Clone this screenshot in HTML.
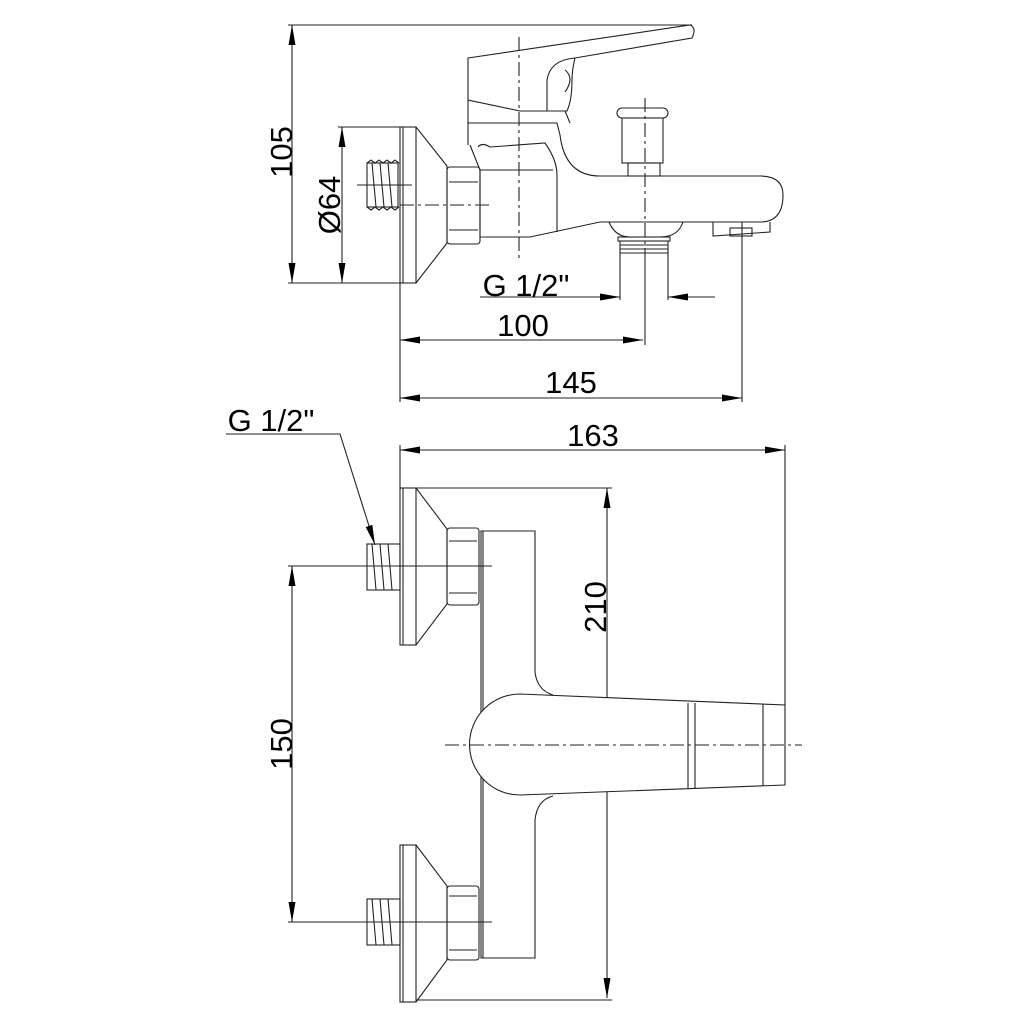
<!DOCTYPE html>
<html><head><meta charset="utf-8"><style>
html,body{margin:0;padding:0;background:#fff;}
svg{display:block;}
text{font-family:"Liberation Sans",sans-serif;font-size:31px;fill:#000;}
</style></head><body>
<svg width="1024" height="1024" viewBox="0 0 1024 1024" xmlns="http://www.w3.org/2000/svg">
<defs>
<marker id="a" viewBox="0 0 20 7" refX="20" refY="3.5" markerWidth="20" markerHeight="7" markerUnits="userSpaceOnUse" orient="auto-start-reverse">
<path d="M0,0 L20,3.5 L0,7 z" fill="#000"/></marker>
</defs>
<g fill="none" stroke="#222" stroke-width="1.1">
<!-- ===== TOP VIEW ===== -->
<line x1="288" y1="25" x2="692" y2="25"/>
<line x1="288" y1="283" x2="416" y2="283"/>
<line x1="338" y1="127" x2="416" y2="127"/>
<line x1="400" y1="283" x2="400" y2="402"/>
<line x1="742" y1="222" x2="742" y2="402"/>
<line x1="645" y1="255" x2="645" y2="345"/>
<line x1="292" y1="25" x2="292" y2="283" marker-start="url(#a)" marker-end="url(#a)"/>
<line x1="342" y1="127" x2="342" y2="283" marker-start="url(#a)" marker-end="url(#a)"/>
<line x1="400" y1="340" x2="643" y2="340" marker-start="url(#a)" marker-end="url(#a)"/>
<line x1="400" y1="398" x2="742" y2="398" marker-start="url(#a)" marker-end="url(#a)"/>
<line x1="480" y1="297" x2="620" y2="297" marker-end="url(#a)"/>
<line x1="715" y1="297" x2="668" y2="297" marker-end="url(#a)"/>
<rect x="400" y="127" width="16" height="156"/>
<line x1="403" y1="127" x2="403" y2="283"/>
<polyline points="416,127 447,166 447,243 416,283"/>
<rect x="367" y="163" width="31" height="44"/>
<path d="M367,163 l4,-3 4,3 4,-3 4,3 4,-3 4,3 4,-3 4,3 M367,207 l4,3 4,-3 4,3 4,-3 4,3 4,-3 4,3 4,-3"/>
<path d="M372,163 l4,44 M380,163 l4,44 M388,163 l4,44"/>
<line x1="357" y1="185" x2="412" y2="185"/>
<line x1="400" y1="205" x2="490" y2="205" stroke-dasharray="14 4 3 4"/>
<rect x="447" y="167" width="33" height="77" rx="3"/>
<line x1="449" y1="182" x2="478" y2="182"/>
<line x1="449" y1="230" x2="478" y2="230"/>
<path d="M480,170 L480,237 L530,237 L600,222 L760,222 Q783,222 783,195 Q783,176 760,176 L600,176 Q565,176 560,135 L557,123 L468,123 L468,145"/>
<path d="M478,147 Q482,142 490,147 L545,143 Q557,160 557,175 L557,232"/>
<line x1="480" y1="170" x2="553" y2="170"/>
<line x1="470" y1="145" x2="480" y2="170"/>
<path d="M468,58 L690,25 Q697,28 692,38 L575,58 Q550,60 547,80 L547,111 L520,111 L468,100 Z"/>
<path d="M547,111 L567,111 Q572,100 572,80 Q572,70 575,58"/>
<path d="M565,70 Q575,78 565,92"/>
<path d="M468,100 L468,123"/><path d="M565,111 L570,123"/>
<rect x="617" y="108" width="51" height="10" rx="5"/>
<rect x="622" y="118" width="41" height="45"/>
<rect x="628" y="163" width="32" height="13"/>
<path d="M609,222 Q615,237 630,237 L660,237 Q678,237 683,222"/>
<rect x="618" y="237" width="52" height="4"/>
<path d="M620,241 l0,14 M668,241 l0,14 M620,245 l48,0 M620,249 l48,0 M620,253 l48,0"/>
<line x1="620" y1="255" x2="620" y2="300"/>
<line x1="668" y1="255" x2="668" y2="300"/>
<path d="M713,222 L713,236 L770,232 L770,222"/>
<rect x="730" y="228" width="22" height="8"/>
<line x1="519" y1="37" x2="519" y2="260" stroke-dasharray="14 4 3 4"/>
<line x1="645" y1="98" x2="645" y2="255" stroke-dasharray="14 4 3 4"/>

<!-- ===== BOTTOM VIEW ===== -->
<line x1="400" y1="445" x2="400" y2="490"/>
<line x1="785" y1="445" x2="785" y2="705"/>
<line x1="400" y1="450" x2="785" y2="450" marker-start="url(#a)" marker-end="url(#a)"/>
<line x1="400" y1="488" x2="612" y2="488"/>
<line x1="607" y1="488" x2="607" y2="998" marker-start="url(#a)" marker-end="url(#a)"/>
<line x1="416" y1="1000" x2="612" y2="1000"/>
<line x1="288" y1="566" x2="492" y2="566"/>
<line x1="288" y1="922" x2="492" y2="922"/>
<line x1="292" y1="566" x2="292" y2="922" marker-start="url(#a)" marker-end="url(#a)"/>
<polyline points="226,434 340,434 375,545" marker-end="url(#a)"/>
<rect x="400" y="488" width="16" height="157"/>
<line x1="403" y1="488" x2="403" y2="645"/>
<polyline points="416,488 447,529 447,604 416,645"/>
<rect x="447" y="528" width="32" height="77" rx="3"/>
<line x1="449" y1="541" x2="477" y2="541"/><line x1="449" y1="593" x2="477" y2="593"/>
<rect x="367" y="544" width="33" height="46"/>
<path d="M372,544 l4,46 M380,544 l4,46 M388,544 l4,46"/>
<rect x="400" y="845" width="16" height="157"/>
<line x1="403" y1="845" x2="403" y2="1002"/>
<polyline points="416,845 447,886 447,960 416,1002"/>
<rect x="447" y="886" width="32" height="74" rx="3"/>
<line x1="449" y1="896" x2="477" y2="896"/><line x1="449" y1="950" x2="477" y2="950"/>
<rect x="367" y="899" width="33" height="46"/>
<path d="M372,899 l4,46 M380,899 l4,46 M388,899 l4,46"/>
<!-- body -->
<path d="M553,796 Q537,800 535,820 L535,958 L481,958 L481,531 L535,531 L535,672 Q537,690 553,695"/>
<line x1="483" y1="531" x2="483" y2="958"/>
<path d="M520,694 L785,705 L785,785 L520,795 A50,50 0 0 1 520,694 Z" fill="#fff"/>
<line x1="688" y1="703" x2="688" y2="788"/>
<line x1="695" y1="703" x2="695" y2="788"/>
<line x1="763" y1="704" x2="763" y2="786"/>
<line x1="445" y1="745" x2="802" y2="745" stroke-dasharray="14 4 3 4"/>
</g>
<text x="0" y="0" transform="translate(292,152) rotate(-90)" text-anchor="middle">105</text>
<text x="0" y="0" transform="translate(340,205) rotate(-90)" text-anchor="middle">Ø64</text>
<text x="526" y="296" text-anchor="middle">G 1/2"</text>
<text x="523" y="336" text-anchor="middle">100</text>
<text x="571" y="393" text-anchor="middle">145</text>
<text x="271" y="431" text-anchor="middle">G 1/2"</text>
<text x="593" y="446" text-anchor="middle">163</text>
<text x="0" y="0" transform="translate(606,607) rotate(-90)" text-anchor="middle">210</text>
<text x="0" y="0" transform="translate(292,744) rotate(-90)" text-anchor="middle">150</text>
</svg>
</body></html>
